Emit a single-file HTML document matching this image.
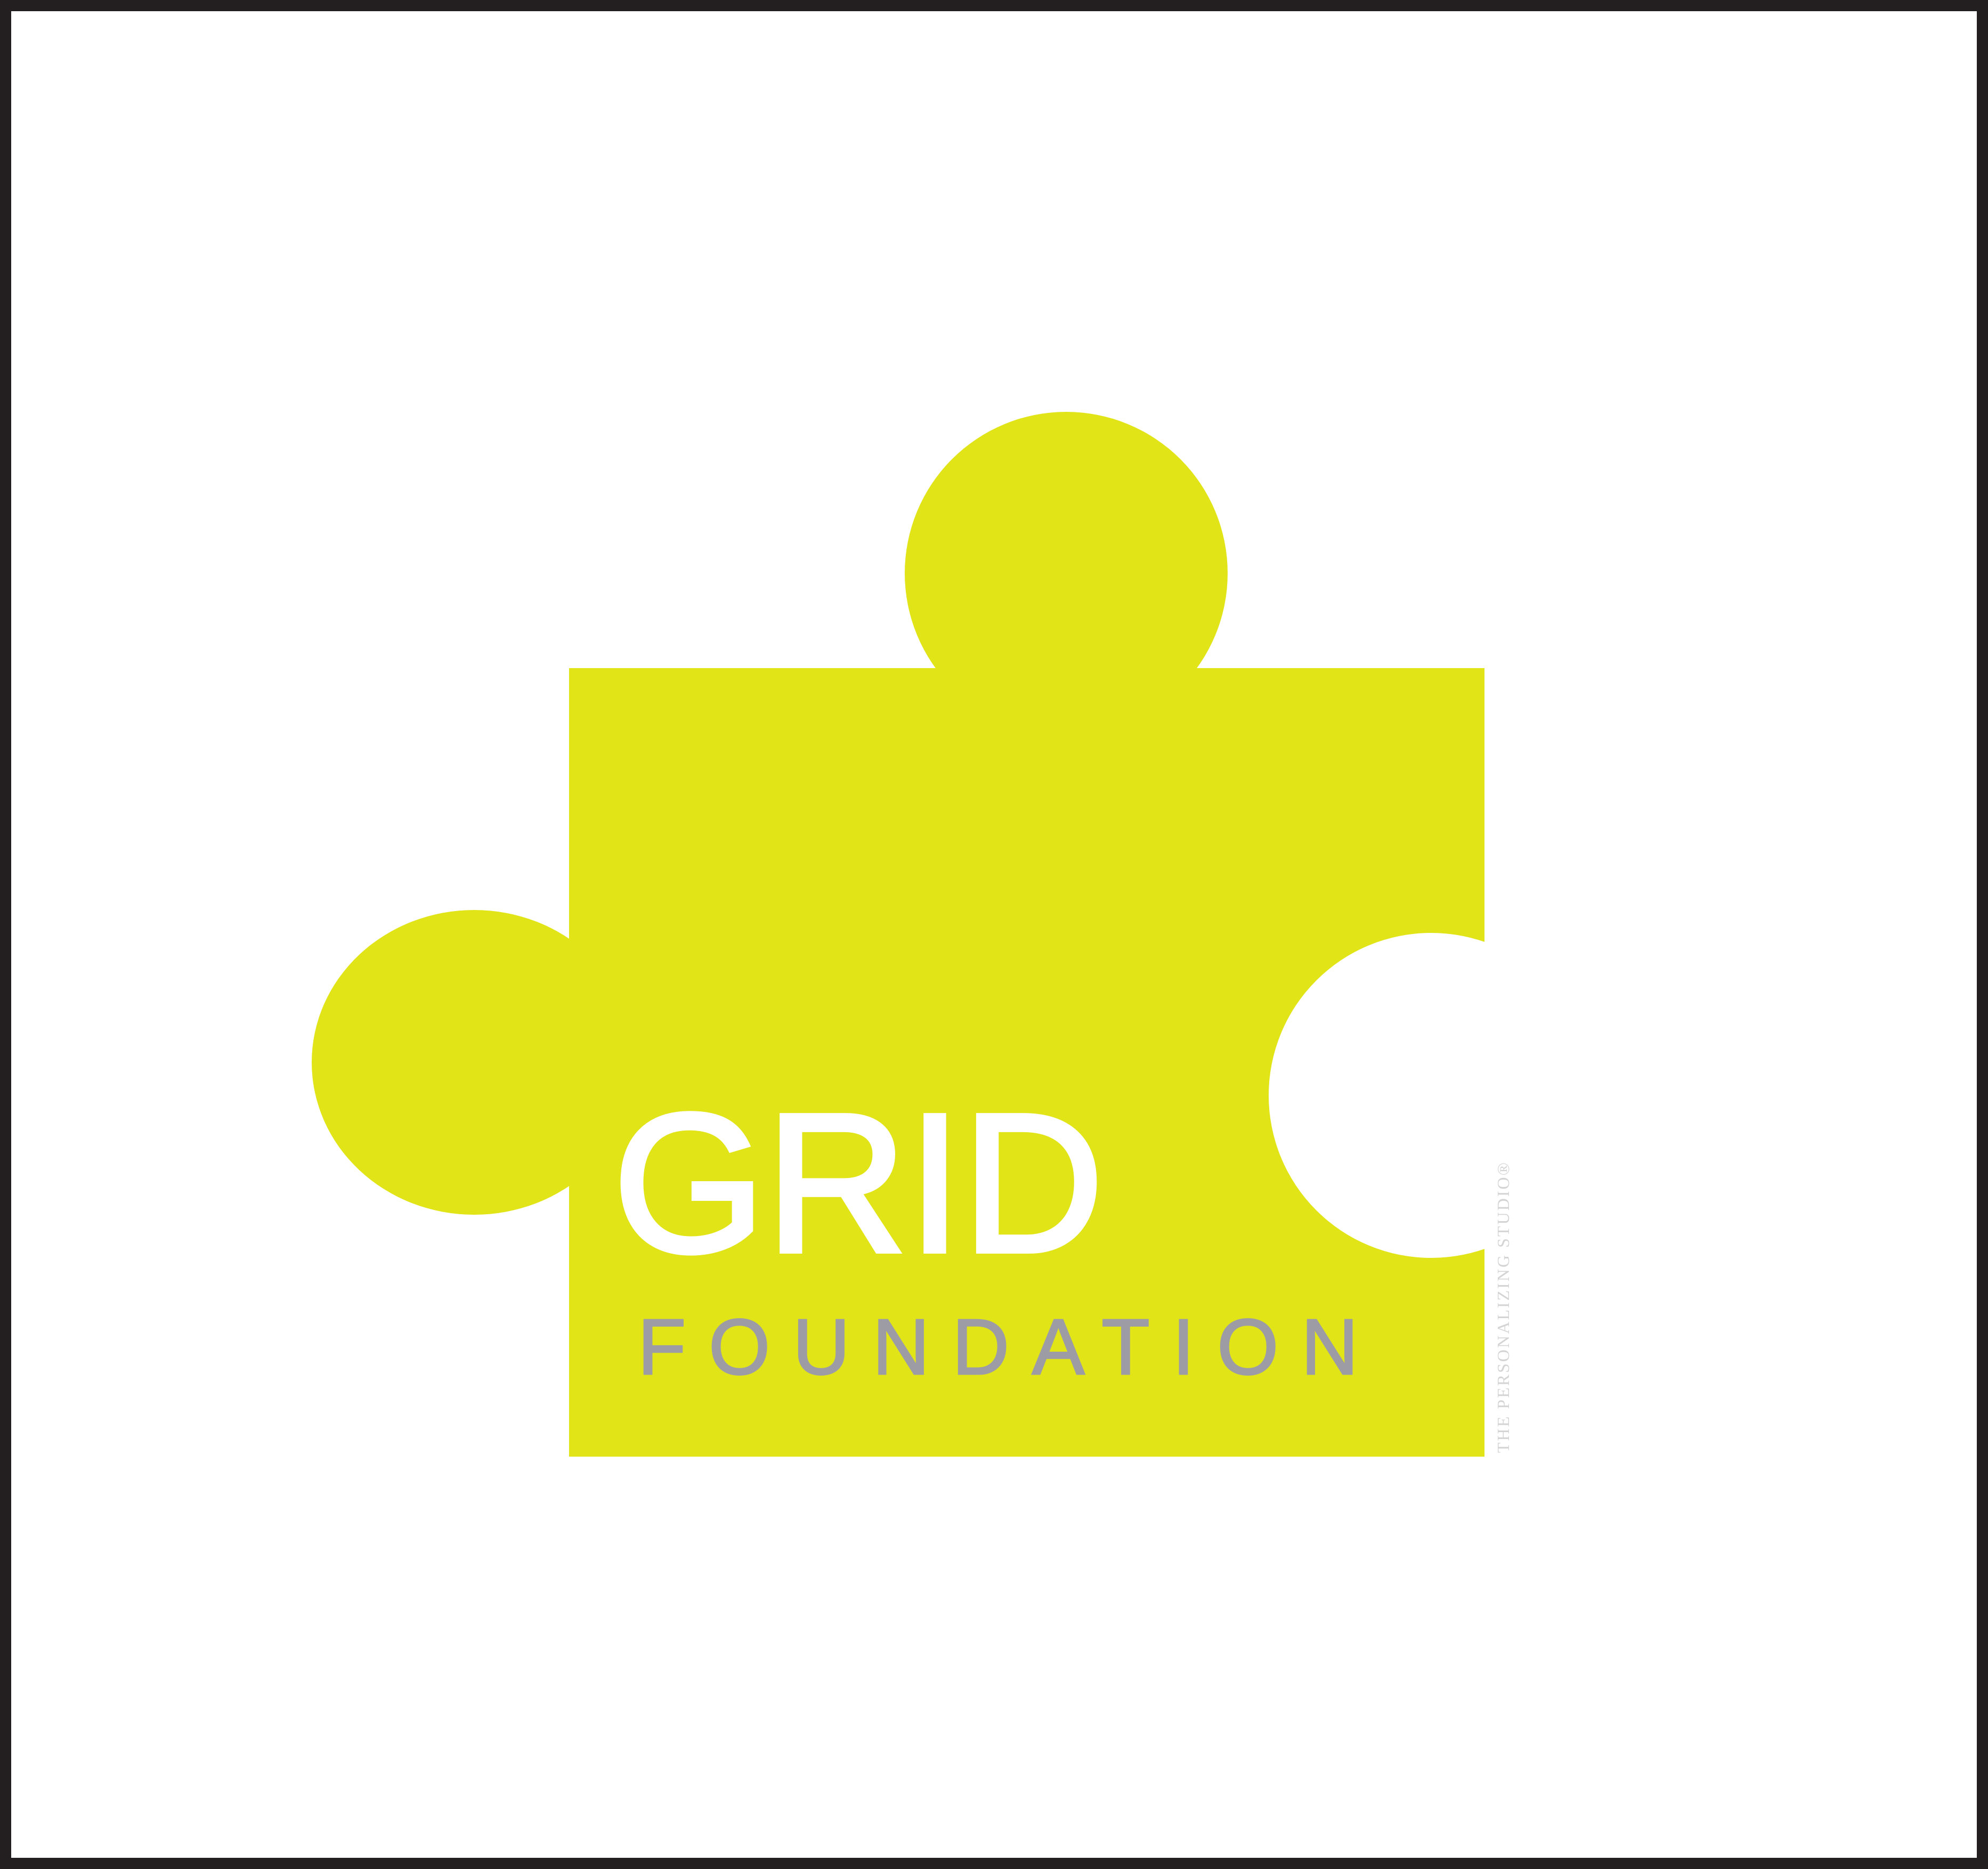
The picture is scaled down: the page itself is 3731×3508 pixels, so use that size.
<!DOCTYPE html>
<html><head><meta charset="utf-8"><style>html,body{margin:0;padding:0;background:#fff}svg{display:block}</style></head>
<body>
<svg width="3731" height="3508" viewBox="0 0 3731 3508" xmlns="http://www.w3.org/2000/svg">
<rect x="0" y="0" width="3731" height="3508" fill="#fff"/>
<rect x="10.5" y="10.5" width="3710" height="3487" fill="none" stroke="#231f20" stroke-width="21"/>
<g fill="#e1e518">
<rect x="1068" y="1254" width="1718" height="1480"/>
<circle cx="2001" cy="1076" r="303"/>
<ellipse cx="890" cy="1994" rx="305" ry="286"/>
</g>
<circle cx="2686" cy="2056" r="305" fill="#fff"/>
<rect x="2786" y="1700" width="150" height="700" fill="#fff"/>
<text x="1150" y="2349" font-family="Liberation Sans, sans-serif" font-size="372" fill="#fff" stroke="#fff" stroke-width="8" textLength="922" lengthAdjust="spacingAndGlyphs">GRID</text>
<text x="1197" y="2579" font-family="Liberation Sans, sans-serif" font-size="148" fill="#9d9ca4" stroke="#9d9ca4" stroke-width="3" textLength="1352" lengthAdjust="spacing">FOUNDATION</text>
<text transform="translate(2832,2727) rotate(-90)" x="0" y="0" font-family="Liberation Serif, serif" font-size="32" fill="#d4d4d4" textLength="545" lengthAdjust="spacing">THE PERSONALIZING STUDIO®</text>
</svg>
</body></html>
